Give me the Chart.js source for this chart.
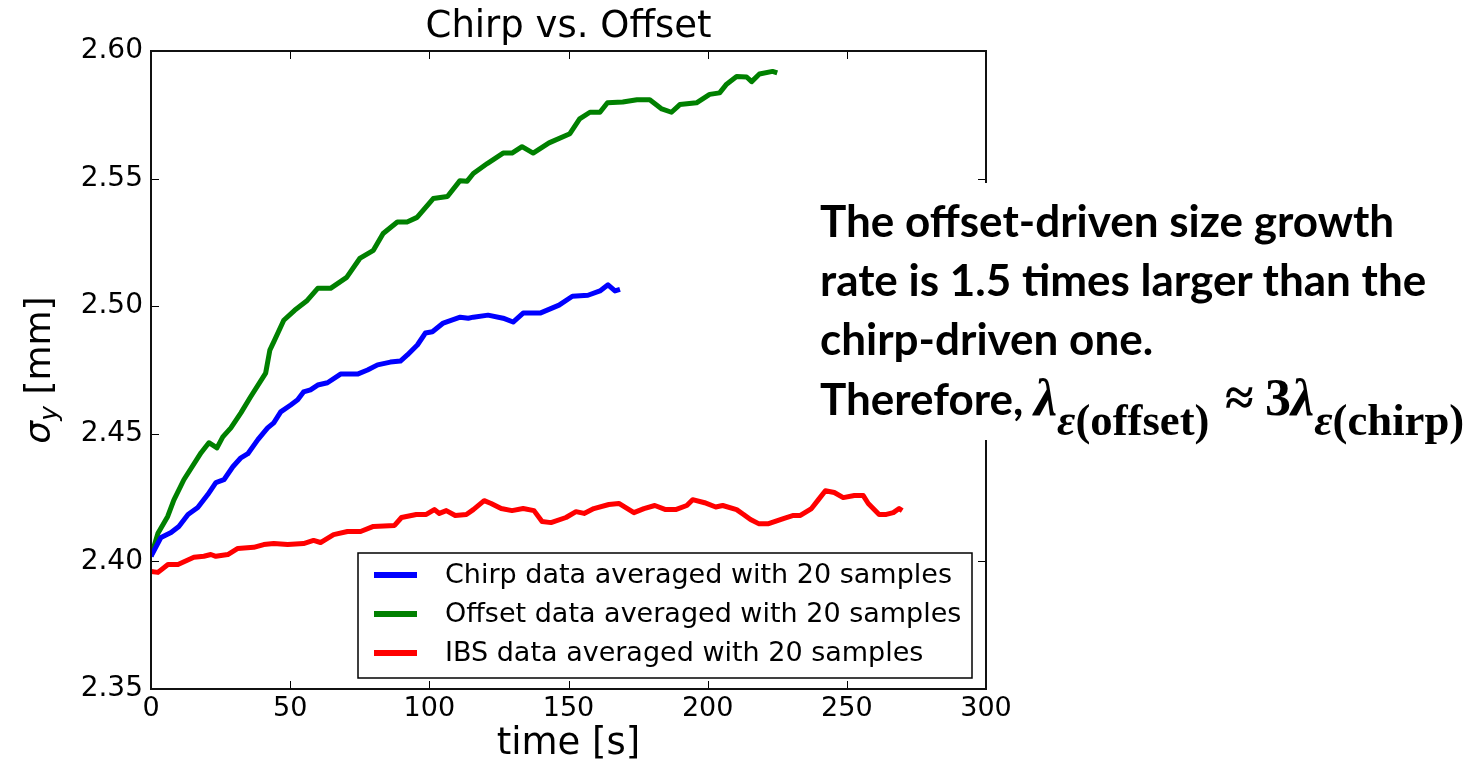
<!DOCTYPE html>
<html>
<head>
<meta charset="utf-8">
<script src="https://cdn.jsdelivr.net/npm/chart.js@4.4.0/dist/chart.umd.min.js"></script>
<style>
html,body{margin:0;padding:0;background:#fff;}
#wrap{position:relative;width:1483px;height:767px;overflow:hidden;}
#c{position:absolute;left:0;top:0;}
#note{position:absolute;left:790px;top:183px;width:693px;height:257px;background:#fff;box-sizing:border-box;
  padding:8px 0 0 30px;font-family:Lato,"Open Sans",sans-serif;font-weight:bold;font-size:44px;line-height:59px;color:#000;white-space:nowrap;}
#note .m{font-family:"Liberation Serif","DejaVu Serif",serif;font-weight:bold;font-size:52px;}
#note .m i{font-style:italic;}
#note .m .rel{margin:0 0.22em 0 0.3em;}
#note sub{font-size:0.86em;vertical-align:-0.45em;line-height:0;}
</style>
</head>
<body>
<div id="wrap">
<canvas id="c" width="1483" height="767"></canvas>
<div id="note">The offset-driven size growth<br>rate is 1.5 times larger than the<br>chirp-driven one.<br>Therefore, <span class="m"><i>λ</i><sub><i>ε</i>(offset)</sub><span class="rel">≈</span>3<i>λ</i><sub><i>ε</i>(chirp)</sub></span></div>
</div>
<script>
// ---- data ----
const titleText = 'Chirp vs. Offset';
const xTitle = 'time [s]';
const yTitleSymbol = 'σ';
const yTitleSub = 'y';
const yTitleUnit = ' [mm]';
const xTicks = [0, 50, 100, 150, 200, 250, 300];
const yTicks = [2.35, 2.40, 2.45, 2.50, 2.55, 2.60];
const seriesLabels = ['Chirp data averaged with 20 samples', 'Offset data averaged with 20 samples', 'IBS data averaged with 20 samples'];
const seriesColors = ['#0000ff', '#008000', '#ff0000'];

const chirpTime = [0,3.6,7.2,10,13.3,16.8,20.4,23.3,26.2,29.4,32.3,34.8,38.4,41.9,44.1,46.6,50.2,52.7,54.8,57.3,59.9,63.4,68.1,74.2,77.8,81.4,86,89.6,92.1,95.7,98.6,101.1,105,111.1,114,115.8,121.1,126.5,130.1,133.7,139.8,146.6,151.4,157,161.3,164.2,166.7,168.5];
const chirpSigma = [2.402,2.4094,2.4113,2.4137,2.4184,2.4211,2.4262,2.4309,2.432,2.4371,2.4406,2.4422,2.4477,2.4523,2.4543,2.4586,2.4613,2.4633,2.4664,2.4672,2.4691,2.470,2.4734,2.4734,2.475,2.477,2.4781,2.4785,2.4809,2.4848,2.4895,2.490,2.4934,2.4957,2.4953,2.4957,2.4965,2.4953,2.4938,2.4973,2.4973,2.5004,2.5039,2.5043,2.506,2.5084,2.506,2.5066];

const offsetTime = [0,2.5,6,8.2,11.8,18,20.8,23.7,25.8,28.7,32.3,35.8,41.2,42.7,44.4,47.7,51.6,55.9,59.9,64.5,70.3,75,79.9,83.4,88.5,92,95.6,101.4,106.5,111,113.6,115.8,120.8,126.5,129.7,133.3,137.3,143,150.5,154,157.7,161.3,164,169.5,174.6,179.2,183.5,187,190,196,200.7,204.3,206.8,210.4,214,215.8,218.6,223.3,225];
const offsetSigma = [2.402,2.411,2.4176,2.424,2.432,2.4426,2.4465,2.4445,2.4488,2.4523,2.4582,2.4645,2.4738,2.4828,2.4867,2.4945,2.4984,2.502,2.507,2.507,2.5113,2.5187,2.5219,2.5285,2.533,2.533,2.5348,2.5422,2.543,2.5492,2.549,2.552,2.5559,2.560,2.560,2.5625,2.560,2.564,2.5676,2.5734,2.576,2.576,2.5797,2.580,2.5809,2.5809,2.5773,2.576,2.579,2.5797,2.583,2.5836,2.587,2.590,2.5898,2.588,2.591,2.592,2.5914];

const ibsTime = [0,2.5,6.1,9.7,15.4,19,21.5,23.3,27.6,31.2,36.9,40.5,44.1,49.1,54.8,58.4,60.9,65.6,70.6,75.3,79.9,87.5,90,95.3,98.9,101.8,103.6,106.1,109.3,113.3,115.8,119.7,122.2,125.8,129.7,133.7,137.6,140.5,143.7,149.1,152.7,155.6,159.1,164.5,168.1,173.5,177.1,181,184.9,188.5,192.5,194.6,198.9,202.9,205.4,210.4,212.9,215.4,218.3,221.9,227.2,230.8,233.3,237.3,239.8,242.3,245.5,248.7,252.7,255.9,257.7,261.6,264.2,266.7,268.8,269.9];
const ibsSigma = [2.3961,2.3957,2.3988,2.3988,2.4016,2.402,2.4027,2.402,2.4027,2.4051,2.4055,2.4066,2.407,2.4066,2.407,2.4082,2.4074,2.4105,2.4117,2.4117,2.4137,2.4141,2.4172,2.4184,2.4184,2.4203,2.4188,2.4199,2.418,2.4184,2.4203,2.4238,2.4227,2.4207,2.4199,2.4207,2.4199,2.4156,2.4152,2.4172,2.4195,2.4188,2.4207,2.4223,2.4227,2.4191,2.4207,2.4219,2.4203,2.4203,2.4219,2.4242,2.423,2.4213,2.4219,2.4203,2.4184,2.4164,2.4148,2.4148,2.4168,2.418,2.418,2.4207,2.4242,2.4277,2.427,2.425,2.4258,2.4258,2.4227,2.4184,2.4184,2.4191,2.4207,2.4199];

// ---- helpers ----
const FONT = '"DejaVu Sans", "Liberation Sans", sans-serif';
function pts(t, s) { return t.map((v, i) => ({ x: v, y: s[i] })); }

const framePlugin = {
  id: 'frame',
  afterDatasetsDraw(chart) {
    const { ctx, chartArea: a, scales: { x, y } } = chart;
    ctx.save();
    ctx.strokeStyle = '#000';
    ctx.lineWidth = 1;
    ctx.beginPath();
    xTicks.forEach(v => {
      const px = Math.round(x.getPixelForValue(v)) + 0.5;
      ctx.moveTo(px, a.bottom); ctx.lineTo(px, a.bottom - 8);
      ctx.moveTo(px, a.top); ctx.lineTo(px, a.top + 8);
    });
    yTicks.forEach(v => {
      const py = Math.round(y.getPixelForValue(v)) + 0.5;
      ctx.moveTo(a.left, py); ctx.lineTo(a.left + 8, py);
      ctx.moveTo(a.right, py); ctx.lineTo(a.right - 8, py);
    });
    ctx.stroke();
    ctx.lineWidth = 2;
    ctx.strokeStyle = '#111';
    ctx.strokeRect(a.left, a.top, a.right - a.left, a.bottom - a.top);
    ctx.restore();
  }
};

const legendPlugin = {
  id: 'boxLegend',
  afterDraw(chart) {
    const { ctx, chartArea: a } = chart;
    const w = 614, h = 125;
    const left = a.right - 14 - w, top = a.bottom - 11 - h;
    ctx.save();
    ctx.fillStyle = '#fff';
    ctx.fillRect(left, top, w, h);
    ctx.strokeStyle = '#000';
    ctx.lineWidth = 1.5;
    ctx.strokeRect(left, top, w, h);
    ctx.font = '27px ' + FONT;
    ctx.textBaseline = 'middle';
    chart.data.datasets.forEach((ds, i) => {
      const cy = top + 22 + i * 39;
      ctx.strokeStyle = ds.borderColor;
      ctx.lineWidth = 6;
      ctx.beginPath();
      ctx.moveTo(left + 16, cy); ctx.lineTo(left + 59, cy);
      ctx.stroke();
      ctx.fillStyle = '#000';
      ctx.fillText(ds.label, left + 87, cy + 1);
    });
    ctx.restore();
  }
};

const yTitlePlugin = {
  id: 'yTitle',
  afterDraw(chart) {
    const { ctx, chartArea: a } = chart;
    ctx.save();
    const cy = (a.top + a.bottom) / 2;
    ctx.translate(50, cy);
    ctx.rotate(-Math.PI / 2);
    ctx.fillStyle = '#000';
    ctx.textBaseline = 'alphabetic';
    const big = '36px ' + FONT, bigI = 'italic 36px ' + FONT, small = 'italic 25px ' + FONT;
    ctx.font = bigI; const w1 = ctx.measureText(yTitleSymbol).width;
    ctx.font = small; const w2 = ctx.measureText(yTitleSub).width;
    ctx.font = big; const w3 = ctx.measureText(yTitleUnit).width;
    let x0 = -(w1 + w2 + w3) / 2;
    ctx.font = bigI; ctx.fillText(yTitleSymbol, x0, 0); x0 += w1;
    ctx.font = small; ctx.fillText(yTitleSub, x0, 7); x0 += w2;
    ctx.font = big; ctx.fillText(yTitleUnit, x0, 0);
    ctx.restore();
  }
};

new Chart(document.getElementById('c'), {
  type: 'line',
  data: {
    datasets: [
      { label: seriesLabels[0], data: pts(chirpTime, chirpSigma), borderColor: seriesColors[0] },
      { label: seriesLabels[1], data: pts(offsetTime, offsetSigma), borderColor: seriesColors[1] },
      { label: seriesLabels[2], data: pts(ibsTime, ibsSigma), borderColor: seriesColors[2] }
    ].map(d => Object.assign(d, { borderWidth: 5, pointRadius: 0, tension: 0, fill: false, borderJoinStyle: 'round', borderCapStyle: 'butt' }))
  },
  options: {
    responsive: false,
    animation: false,
    devicePixelRatio: 1,
    layout: { padding: { left: 0, top: 0, right: 346, bottom: 0 } },
    plugins: {
      legend: { display: false },
      tooltip: { enabled: false },
      title: {
        display: true, text: titleText, color: '#000', align: 'center',
        font: { family: FONT, size: 37, weight: 'normal', lineHeight: 1.0 },
        padding: { top: 9, bottom: 5 }
      }
    },
    scales: {
      x: {
        type: 'linear', position: 'bottom', min: 0, max: 300,
        afterBuildTicks: s => { s.ticks = xTicks.map(v => ({ value: v })); },
        afterFit: s => { s.height = 78; },
        ticks: { color: '#000', font: { family: FONT, size: 27 }, padding: 4, maxRotation: 0, autoSkip: false, callback: v => String(v) },
        grid: { display: false, drawTicks: false },
        border: { display: false },
        title: { display: true, text: xTitle, color: '#000', font: { family: FONT, size: 37 }, padding: { top: 0, bottom: 0 } }
      },
      y: {
        type: 'linear', position: 'left', min: 2.35, max: 2.60,
        afterBuildTicks: s => { s.ticks = yTicks.map(v => ({ value: v })); },
        afterFit: s => { s.width = 151; },
        ticks: { color: '#000', font: { family: FONT, size: 28 }, padding: 8, autoSkip: false, callback: v => Number(v).toFixed(2) },
        grid: { display: false, drawTicks: false },
        border: { display: false }
      },
      y2: {
        type: 'linear', position: 'right', min: 2.35, max: 2.60, display: true,
        afterFit: s => { s.width = 151; },
        ticks: { display: false },
        grid: { display: false, drawTicks: false },
        border: { display: false }
      }
    }
  },
  plugins: [framePlugin, legendPlugin, yTitlePlugin]
});
</script>
</body>
</html>
